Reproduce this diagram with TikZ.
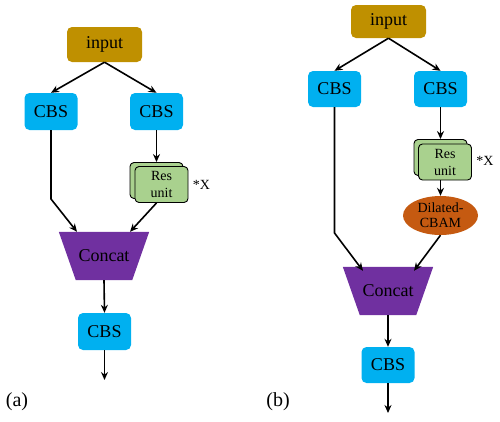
\documentclass[tikz,border=0pt]{standalone}
\usepackage{fontspec}
\setmainfont{Liberation Serif}
\newfontfamily\tnr{Liberation Serif}
\usetikzlibrary{shapes.geometric,arrows.meta}
\definecolor{inputc}{HTML}{BF9000}
\definecolor{cbsc}{HTML}{00B0F0}
\definecolor{resc}{HTML}{A9D18E}
\definecolor{catc}{HTML}{7030A0}
\definecolor{dilc}{HTML}{C55A11}
\tikzset{
  inbox/.style={fill=inputc, rounded corners=5pt, minimum width=75pt, minimum height=35pt, inner sep=0pt, font=\tnr\fontsize{18}{18}\selectfont},
  cbsbox/.style={fill=cbsc, rounded corners=5pt, minimum width=53pt, minimum height=37pt, inner sep=0pt, font=\tnr\fontsize{18}{18}\selectfont},
  resbox/.style={fill=resc, draw=black, line width=0.9pt, rounded corners=4pt, minimum width=53pt, minimum height=36pt, inner sep=0pt, align=center, font=\tnr\fontsize{14}{17}\selectfont},
  catbox/.style={minimum width=90pt, minimum height=48pt, inner sep=0pt, font=\tnr\fontsize{18}{18}\selectfont},
  dilbox/.style={ellipse, fill=dilc, minimum width=75pt, minimum height=39pt, inner sep=0pt, align=center, font=\tnr\fontsize{14}{15}\selectfont},
  txt/.style={inner sep=0pt, font=\tnr\fontsize{14}{14}\selectfont},
  lbl/.style={inner sep=0pt, font=\tnr\fontsize{20}{20}\selectfont},
  arr/.style={line width=1.6pt, -{Stealth[length=8pt,width=7pt]}},
}
\newcommand{\trapfill}[1]{\fill[catc] (#1.north west) -- (#1.north east) -- ([xshift=-17pt]#1.south east) -- ([xshift=17pt]#1.south west) -- cycle;}
\begin{document}
\begin{tikzpicture}[x=1pt,y=-1pt]
\useasboundingbox (0,0) rectangle (500,421);
% ---------- (a) ----------
\node[inbox] (inA) at (104.5,44.5) {input};
\node[cbsbox] (cA1) at (51,111.5) {CBS};
\node[cbsbox] (cA2) at (156.5,111.5) {CBS};
\node[resbox] (rAb) at (156.5,180.5) {};
\node[resbox] (rA) at (161.5,184.5) {Res\\unit};
\node[txt] (xA) at (201.5,185) {*X};
\node[catbox] (catA) at (104,256) {};
\trapfill{catA}
\node[catbox] (catAt) at (catA) {Concat};
\node[cbsbox] (cA3) at (104.5,331.5) {CBS};
\coordinate (bendA) at (51,199);
\coordinate (endA) at (104.5,380);
\node[lbl] (la) at (17,402) {(a)};
\draw[arr] (inA.south) -- (cA1.north);
\draw[arr] (inA.south) -- (cA2.north);
\draw[arr] (cA2.south) -- (rAb.north);
\draw[arr] (cA1.south) -- (bendA) -- ([xshift=-27pt]catA.north);
\draw[arr] (rAb.south |- rA.south) -- ([xshift=26pt]catA.north);
\draw[arr] (catA.south) -- (cA3.north);
\draw[arr] (cA3.south) -- (endA);
% ---------- (b) ----------
\node[inbox, minimum height=33pt] (inB) at (388.5,21.5) {input};
\node[cbsbox, minimum height=36pt] (cB1) at (334.5,89) {CBS};
\node[cbsbox, minimum height=36pt] (cB2) at (440.5,89) {CBS};
\node[resbox] (rBb) at (440.5,157.5) {};
\node[resbox] (rB) at (445,162) {Res\\unit};
\node[txt] (xB) at (485,161) {*X};
\node[dilbox] (dB) at (440.5,215.5) {Dilated-\\CBAM};
\node[catbox] (catB) at (388,291) {};
\trapfill{catB}
\node[catbox] (catBt) at (catB) {Concat};
\node[cbsbox, minimum height=36pt] (cB3) at (388,365) {CBS};
\coordinate (bendB) at (334.5,233);
\coordinate (endB) at (388,413);
\node[lbl] (lb) at (278,402) {(b)};
\draw[arr] (inB.south) -- (cB1.north);
\draw[arr] (inB.south) -- (cB2.north);
\draw[arr] (cB2.south) -- (rBb.north);
\draw[arr] (rBb.south |- rB.south) -- (dB.north);
\draw[arr] (cB1.south) -- (bendB) -- ([xshift=-25pt,yshift=-4pt]catB.north);
\draw[arr] (dB.south) -- ([xshift=26pt,yshift=-4pt]catB.north);
\draw[arr] (catB.south) -- (cB3.north);
\draw[arr] (cB3.south) -- (endB);
\end{tikzpicture}
\end{document}
